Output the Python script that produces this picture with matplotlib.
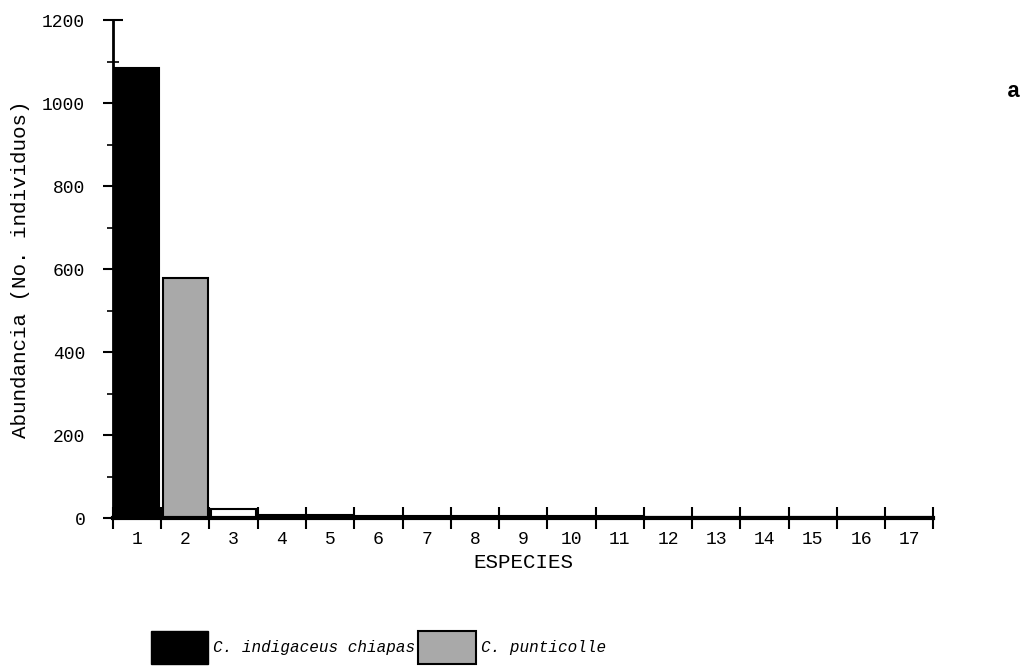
import matplotlib.pyplot as plt
from matplotlib.patches import Patch
from matplotlib.ticker import MultipleLocator

especies = list(range(1, 18))
abundancia = [1085, 578, 22, 8, 7, 6, 5, 5, 4, 4, 4, 3, 3, 3, 3, 2, 2]
colores = ['black', '#a9a9a9', 'white'] + ['black'] * 14
serie_1 = 'C. indigaceus chiapas'
serie_2 = 'C. punticolle'

plt.rcParams['font.family'] = ['Liberation Mono', 'DejaVu Sans Mono']

fig = plt.figure(figsize=(10.36, 6.71), dpi=100)
ax = fig.add_axes([0.109, 0.228, 0.792, 0.742])

ax.bar(especies, abundancia, width=0.92, color=colores,
       edgecolor='black', linewidth=1.5)

ax.set_xlim(0.5, 17.5)
ax.set_ylim(0, 1200)
ax.yaxis.set_major_locator(MultipleLocator(200))
ax.yaxis.set_minor_locator(MultipleLocator(100))

# ticks between categories, labels centred under each bar
ax.set_xticks([i + 0.5 for i in range(0, 18)], minor=True)
ax.set_xticks(especies)
ax.set_xticklabels([str(e) for e in especies], fontsize=13)
ax.tick_params(axis='x', which='major', length=0, pad=9)
ax.tick_params(axis='x', which='minor', direction='inout', length=16, width=1.5)
ax.tick_params(axis='y', which='major', direction='inout', length=14, width=1.5,
               labelsize=13, pad=13)
ax.tick_params(axis='y', which='minor', direction='inout', length=8, width=1.2)

for s in ['top', 'right']:
    ax.spines[s].set_visible(False)
ax.spines['left'].set_linewidth(2)
ax.spines['bottom'].set_linewidth(3)

ax.set_ylabel('Abundancia (No. individuos)', fontsize=15, labelpad=9)
ax.set_xlabel('ESPECIES', fontsize=15, labelpad=4)

fig.text(0.985, 0.855, 'a', fontsize=16, fontweight='bold', ha='right')

handles = [Patch(facecolor='black', edgecolor='black'),
           Patch(facecolor='#a9a9a9', edgecolor='black', linewidth=1.5)]
fig.legend(handles, [serie_1, serie_2], loc='center', ncol=2,
           bbox_to_anchor=(0.365, 0.035), frameon=False,
           prop={'style': 'italic', 'size': 11.5},
           handlelength=3.6, handleheight=2.8, handletextpad=0.3,
           columnspacing=0.2)

fig.savefig('out.png', dpi=100)
